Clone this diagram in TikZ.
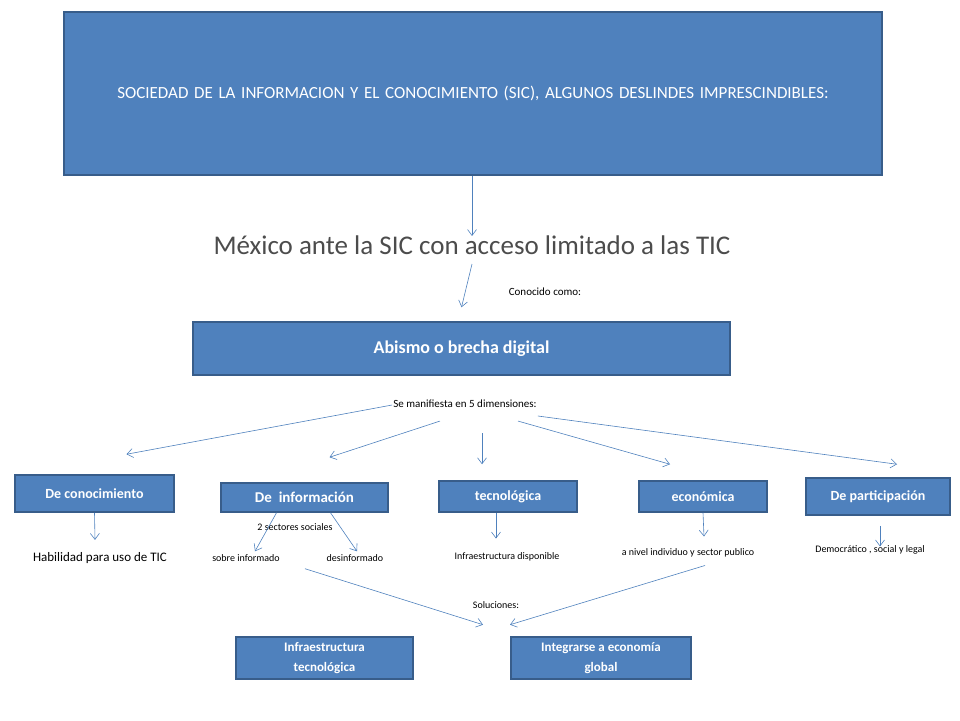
\documentclass[tikz,border=0pt]{standalone}
\usepackage{fontspec}
\setmainfont{Carlito}
\usetikzlibrary{arrows.meta}
\usetikzlibrary{calc}
\definecolor{boxblue}{HTML}{4F81BD}
\definecolor{boxline}{HTML}{385D8A}
\tikzset{
  bluebox/.style={draw=boxline,line width=1.5pt,fill=boxblue,text=white,font=\bfseries,align=center,inner sep=0pt},
  link/.style={->,draw=boxblue,line width=0.6pt},
  lbl/.style={font=\fontsize{11}{13}\selectfont,inner sep=1pt}
}
\begin{document}
\begin{tikzpicture}[x=1pt,y=-1pt,>/.tip={Straight Barb[length=6pt,width=9pt]}]
	\useasboundingbox (0,0) rectangle (960,720);
	\node (sic) [bluebox,minimum width=818pt,minimum height=163pt,font=\fontsize{17}{22}\selectfont,text width=800pt] at (473,93.5) {SOCIEDAD DE LA INFORMACION Y EL CONOCIMIENTO (SIC), ALGUNOS DESLINDES IMPRESCINDIBLES:};
	\node (mex) [font=\fontsize{27}{30}\selectfont,text=black!70] at (472,245) {México ante la SIC con acceso limitado a las TIC};
	\node (conocido) [lbl] at (545,292) {Conocido como:};
	\node (abismo) [bluebox,minimum width=537pt,minimum height=53pt,font=\bfseries\fontsize{18}{22}\selectfont] at (461.5,348.5) {Abismo o brecha digital};
	\node (dim) [lbl] at (465,404) {Se manifiesta en 5 dimensiones:};

	\node (conoc) [bluebox,minimum width=159pt,minimum height=37pt,font=\bfseries\fontsize{14}{16}\selectfont] at (94.5,493.5) {De conocimiento};
	\node (info) [bluebox,minimum width=167pt,minimum height=29pt,font=\bfseries\fontsize{15}{17}\selectfont] at (304.5,497.5) {De\ \ información};
	\node (tecno) [bluebox,minimum width=138pt,minimum height=31pt,font=\bfseries\fontsize{14}{16}\selectfont] at (508,496.5) {tecnológica};
	\node (econ) [bluebox,minimum width=128pt,minimum height=31pt,font=\bfseries\fontsize{14}{16}\selectfont] at (703,496.5) {económica};
	\node (partic) [bluebox,minimum width=144pt,minimum height=37pt,font=\bfseries\fontsize{14}{16}\selectfont] at (878,496.5) {De participación};

	\node (habil) [font=\fontsize{13}{15}\selectfont] at (100,558) {Habilidad para uso de TIC};
	\node (sectores) [lbl,font=\fontsize{10}{12}\selectfont] at (295,527) {2 sectores sociales};
	\node (sobre) [lbl,font=\fontsize{10}{12}\selectfont] at (246,558) {sobre informado};
	\node (desinf) [lbl,font=\fontsize{10}{12}\selectfont] at (355,558) {desinformado};
	\node (infra) [lbl,font=\fontsize{10}{12}\selectfont] at (507,557) {Infraestructura disponible};
	\node (nivel) [lbl,font=\fontsize{10}{12}\selectfont] at (688,553) {a nivel individuo y sector publico};
	\node (democ) [lbl,font=\fontsize{10}{12}\selectfont] at (870,550) {Democrático , social y legal};
	\node (soluc) [lbl,font=\fontsize{10}{12}\selectfont] at (496,605) {Soluciones:};

	\node (solinfra) [bluebox,minimum width=177pt,minimum height=42pt,font=\bfseries\fontsize{13}{20}\selectfont] at (324.5,658) {Infraestructura\\tecnológica};
	\node (solecon) [bluebox,minimum width=180pt,minimum height=42pt,font=\bfseries\fontsize{13}{20}\selectfont] at (601,658) {Integrarse a economía\\global};

	% connectors
	\draw[link] (sic.south -| mex) -- ($(mex.north)+(0,4)$);
	\draw[link] ($(mex.south)+(0,6)$) -- ($(abismo.north)+(0,-14)$);
	\draw[link] ($(dim.west)+(0,1)$) -- ($(conoc.north)+(32,-20)$);
	\draw[link] ($(dim.south)+(-25,12)$) -- ($(info.north)+(25,-25)$);
	\draw[link] ($(dim.south)+(17,24)$) -- ($(tecno.north)+(-26,-16)$);
	\draw[link] ($(dim.south)+(53,12)$) -- ($(econ.north)+(-33,-16)$);
	\draw[link] ($(dim.east)+(0,12)$) -- ($(partic.north)+(19,-13)$);
	\draw[link] (conoc.south) -- ($(habil.north)+(-5,-9)$);
	\draw[link] ($(tecno.south)+(-12,0)$) -- ($(infra.north)+(-11,-13)$);
	\draw[link] (econ.south) -- ($(nivel.north)+(16,-11)$);
	\draw[link] ($(partic.south)+(2,10)$) -- ($(democ.north)+(10,2)$);
	\draw[link] ($(info.south)+(-28,0)$) -- ($(sobre.north)+(9,-2)$);
	\draw[link] ($(info.south)+(26,0)$) -- ($(desinf.north)+(2,-2)$);
	\draw[link] ($(desinf.south)+(-50,6)$) -- ($(soluc.south)+(-13,15)$);
	\draw[link] ($(nivel.south)+(17,7)$) -- ($(soluc.south)+(14,15)$);
\end{tikzpicture}
\end{document}
